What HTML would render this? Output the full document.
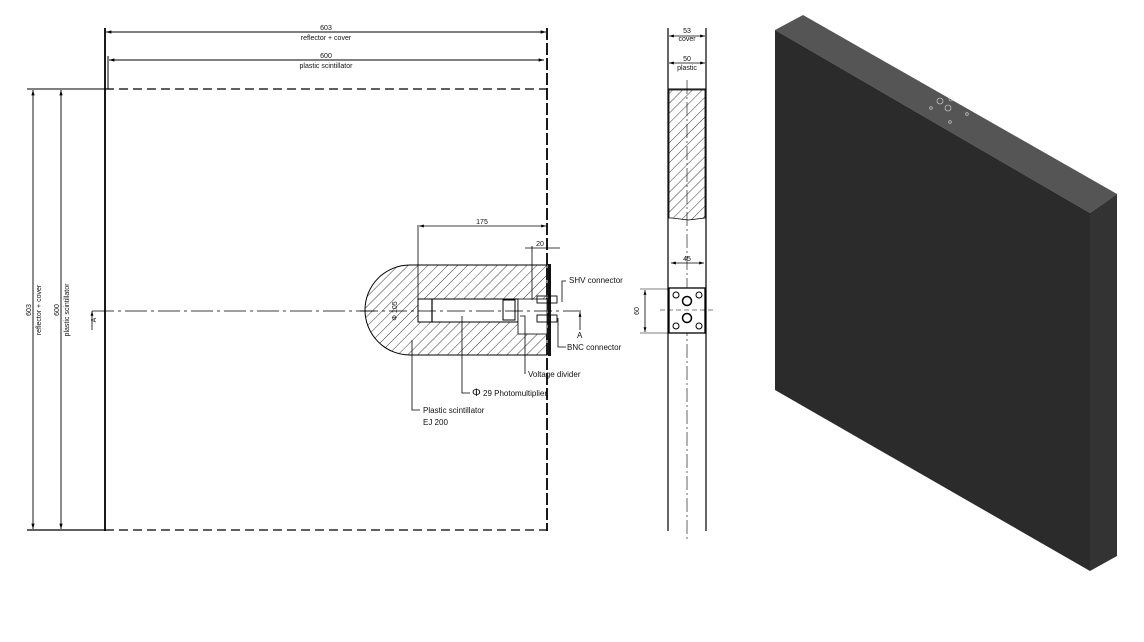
<!DOCTYPE html>
<html><head><style>html,body{margin:0;padding:0;background:#fff}svg{display:block}text{font-family:"Liberation Sans",sans-serif;fill:#111}</style></head>
<body>
<svg width="1144" height="642" viewBox="0 0 1144 642" xmlns="http://www.w3.org/2000/svg">
<defs>
<pattern id="h" width="7" height="7" patternUnits="userSpaceOnUse" patternTransform="rotate(45)">
<line x1="0" y1="0" x2="0" y2="7" stroke="#222" stroke-width="0.9"/></pattern>
<marker id="a" viewBox="0 0 10 10" refX="10" refY="5" markerWidth="6" markerHeight="6" orient="auto-start-reverse"><path d="M0,2 L10,5 L0,8z" fill="#000"/></marker>
</defs>
<g stroke="#000" fill="none">
<!-- left view outline -->
<line x1="27" y1="89" x2="105" y2="89" stroke-width="1"/>
<line x1="105" y1="89" x2="547" y2="89" stroke-width="1.3" stroke-dasharray="9,5"/>
<line x1="27" y1="530" x2="105" y2="530" stroke-width="1.3"/>
<line x1="105" y1="530" x2="547" y2="530" stroke-width="1.3" stroke-dasharray="9,5"/>
<line x1="105" y1="28" x2="105" y2="531" stroke-width="1.8"/>
<line x1="547" y1="28" x2="547" y2="531" stroke-width="1.8" stroke-dasharray="12,3"/>
<line x1="108" y1="56" x2="108" y2="89" stroke-width="1"/>
<!-- dims -->
<line x1="106" y1="32" x2="546" y2="32" stroke-width="0.9" marker-start="url(#a)" marker-end="url(#a)"/>
<line x1="109" y1="60" x2="544" y2="60" stroke-width="0.9" marker-start="url(#a)" marker-end="url(#a)"/>
<line x1="33" y1="90" x2="33" y2="529" stroke-width="0.9" marker-start="url(#a)" marker-end="url(#a)"/>
<line x1="61" y1="90" x2="61" y2="529" stroke-width="0.9" marker-start="url(#a)" marker-end="url(#a)"/>
<!-- centerline -->
<line x1="92" y1="311" x2="375" y2="311" stroke-width="0.8" stroke-dasharray="22,4,3,4"/>
<line x1="92" y1="311" x2="92" y2="330" stroke-width="0.8" marker-start="url(#a)"/>
<!-- hatched detector housing -->
<path d="M547,265 L410,265 A45,45 0 0 0 410,355 L547,355 Z" fill="url(#h)" stroke-width="1"/>
<rect x="418" y="299" width="100" height="23" fill="#fff" stroke-width="1"/>
<rect x="518" y="299" width="29" height="35" fill="#fff" stroke-width="0.8"/>
<line x1="432" y1="299" x2="432" y2="322" stroke-width="1.2"/>
<rect x="503" y="300" width="12" height="20" stroke-width="1"/>
<rect x="548" y="264" width="3" height="92" fill="#111" stroke="none"/>
<rect x="537" y="296" width="20" height="7" stroke-width="0.9"/>
<rect x="537" y="315" width="20" height="7" stroke-width="0.9"/>
<line x1="360" y1="311" x2="585" y2="311" stroke-width="0.8" stroke-dasharray="18,4,3,4"/>
<!-- dims detail -->
<line x1="418" y1="225" x2="418" y2="300" stroke-width="0.8"/>
<line x1="419" y1="226" x2="546" y2="226" stroke-width="0.8" marker-start="url(#a)" marker-end="url(#a)"/>
<line x1="532" y1="246" x2="532" y2="300" stroke-width="0.8"/>
<line x1="525" y1="248" x2="560" y2="248" stroke-width="0.8"/>
<line x1="580" y1="330" x2="580" y2="312" stroke-width="0.8" marker-end="url(#a)"/>
<!-- leaders -->
<polyline points="566,281 562,281 562,302" stroke-width="0.8"/>
<polyline points="566,347 558,347 558,318" stroke-width="0.8"/>
<polyline points="525,374 525,316 520,316" stroke-width="0.8"/>
<polyline points="470,393 462,393 462,316" stroke-width="0.8"/>
<polyline points="420,410 412,410 412,340" stroke-width="0.8"/>
<!-- side view -->
<line x1="668" y1="28" x2="668" y2="531" stroke-width="1.2"/>
<line x1="706" y1="28" x2="706" y2="531" stroke-width="1.2"/>
<line x1="669" y1="36" x2="705" y2="36" stroke-width="0.8" marker-start="url(#a)" marker-end="url(#a)"/>
<line x1="669" y1="63" x2="705" y2="63" stroke-width="0.8" marker-start="url(#a)" marker-end="url(#a)"/>
<line x1="668" y1="89" x2="706" y2="89" stroke-width="1"/>
<path d="M669,90 L705,90 L705,218 L688,220 L672,218 L669,218 Z" fill="url(#h)" stroke-width="0.8"/>
<line x1="687" y1="80" x2="687" y2="540" stroke-width="0.6" stroke-dasharray="14,3,2,3"/>
<rect x="669" y="288" width="36" height="45" fill="#fff" stroke-width="1.3"/>
<line x1="671" y1="263" x2="704" y2="263" stroke-width="0.8" marker-start="url(#a)" marker-end="url(#a)"/>
<line x1="640" y1="289" x2="668" y2="289" stroke-width="0.6"/>
<line x1="640" y1="333" x2="668" y2="333" stroke-width="0.6"/>
<line x1="645" y1="290" x2="645" y2="332" stroke-width="0.8" marker-start="url(#a)" marker-end="url(#a)"/>
<line x1="660" y1="310" x2="715" y2="310" stroke-width="0.6" stroke-dasharray="5,3"/>
<circle cx="676" cy="295" r="3" stroke-width="1"/><circle cx="699" cy="295" r="3" stroke-width="1"/>
<circle cx="676" cy="326" r="3" stroke-width="1"/><circle cx="699" cy="326" r="3" stroke-width="1"/>
<circle cx="687" cy="301" r="4.5" stroke-width="1.5"/><circle cx="687" cy="318" r="4.5" stroke-width="1.5"/>
</g>
<g font-size="7" text-anchor="middle">
<text x="326" y="30">603</text><text x="326" y="40">reflector + cover</text>
<text x="326" y="58">600</text><text x="326" y="68">plastic scintillator</text>
<text x="482" y="224">175</text><text x="540" y="246">20</text>
<text x="687" y="33">53</text><text x="687" y="41">cover</text>
<text x="687" y="61">50</text><text x="687" y="70">plastic</text>
<text x="687" y="261">45</text>
<text transform="translate(639,311) rotate(-90)">60</text>
<text transform="translate(31,310) rotate(-90)">603</text>
<text transform="translate(41,310) rotate(-90)">reflector + cover</text>
<text transform="translate(59,310) rotate(-90)">600</text>
<text transform="translate(69,310) rotate(-90)">plastic scintillator</text>
<text transform="translate(96,320) rotate(-90)">A</text>
<text transform="translate(397,311) rotate(-90)">Φ 105</text>
</g>
<g font-size="8">
<text x="569" y="283">SHV connector</text>
<text x="567" y="350">BNC connector</text>
<text x="577" y="338">A</text>
<text x="528" y="377">Voltage divider</text>
<text x="472" y="396"><tspan font-size="11">Φ</tspan> 29 Photomultiplier</text>
<text x="423" y="413">Plastic scintillator</text>
<text x="423" y="425">EJ 200</text>
</g>
<!-- 3D view -->
<polygon points="775,30 803,15 1117,194 1090,213" fill="#555"/>
<polygon points="775,30 1090,213 1090,571 775,390" fill="#2b2b2b"/>
<polygon points="1090,213 1117,194 1117,556 1090,571" fill="#333"/>
<g stroke="#ddd" fill="none" stroke-width="0.6">
<circle cx="940" cy="101" r="3"/><circle cx="948" cy="108" r="3"/><circle cx="951" cy="99" r="2"/>
<circle cx="931" cy="108" r="1.3"/><circle cx="967" cy="114" r="1.3"/><circle cx="950" cy="122" r="1.3"/>
</g>
</svg>
</body></html>
